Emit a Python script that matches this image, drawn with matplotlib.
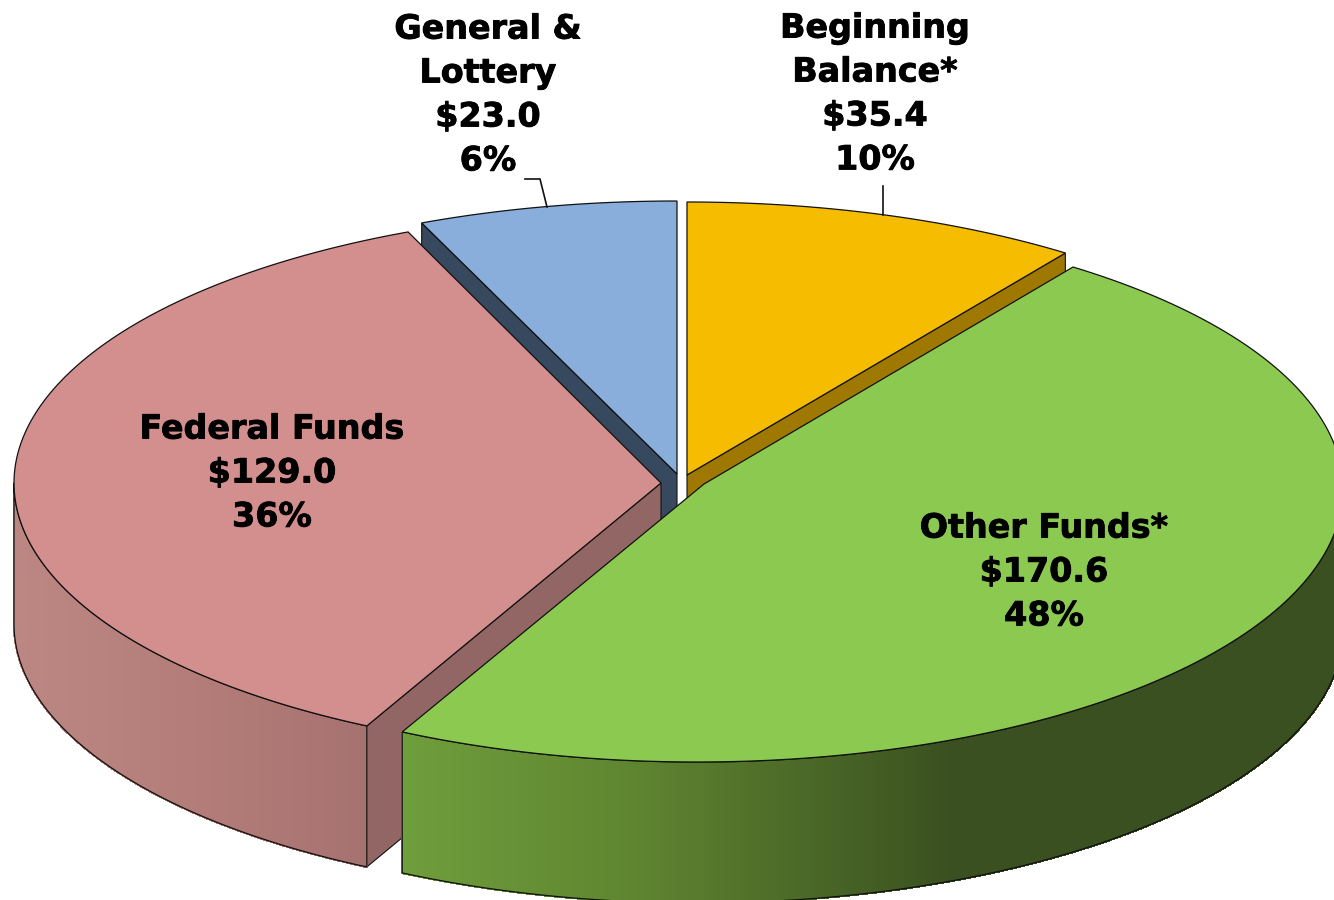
#!/usr/bin/env python3
"""Exploded 3D style pie of funding sources, drawn from squashed ellipses."""

import numpy as np
import matplotlib
matplotlib.use("Agg")
import matplotlib.pyplot as plt
import matplotlib.patheffects as pe
from matplotlib.collections import PolyCollection
from matplotlib.patches import Polygon

# Data, clockwise from 12 o'clock
names = ["Beginning\nBalance*", "Other Funds*", "Federal Funds", "General &\nLottery"]
values = [35.4, 170.6, 129.0, 23.0]
percents = ["10%", "48%", "36%", "6%"]

# Look of each slice
top_colors = ["#F6BC00", "#8CC950", "#D38F8D", "#8AAEDB"]
side_colors = ["#9E7800", "#3A5020", "#936666", "#36495E"]
centers = [(687, 475), (697, 489), (663, 483), (677, 474)]
apexes = [(687, 475), (704, 484), (661, 483), (677, 474)]
radii_x = [650, 646, 649, 650]

RY = 273
DEPTH = 141
EDGE = "#111111"

# which cut face can be seen: 0 start of the slice, -1 end of it
cut_faces = {0: [-1], 1: [], 2: [0], 3: [0]}

# outer wall shading, (x pixel, colour) stops
wall_stops = {
    1: ([400, 640, 950, 1340], ["#6F9E3C", "#5E8430", "#3A5020", "#3A5020"]),
    2: ([14, 200, 366], ["#BC8783", "#B37C78", "#A67270"]),
}

label_pos = [(875, 94), (1044, 572), (272, 473), (488, 95)]
leaders = [([883, 883], [215, 186]), ([547, 540, 525], [207, 179, 179])]

fig = plt.figure(figsize=(13.34, 9), dpi=100)
ax = fig.add_axes([0, 0, 1, 1])
ax.set_xlim(0, 1334)
ax.set_ylim(900, 0)
ax.axis("off")


def rim(center, rx, a0, a1, n=160):
    t = np.radians(np.linspace(a0, a1, n))
    return np.column_stack([center[0] + rx * np.sin(t), center[1] - RY * np.cos(t)])


def to_rgb_array(cols):
    return np.array([matplotlib.colors.to_rgb(c) for c in cols])


angles = np.cumsum([0] + values) / sum(values) * 360
down = np.array([0, DEPTH])

# back slices first, the green one sits in front of everything
for i in [0, 3, 2, 1]:
    a0, a1 = angles[i], angles[i + 1]
    c = centers[i]
    apex = np.array(apexes[i], dtype=float)
    edge = rim(c, radii_x[i], a0, a1)

    # flat cut faces going down from the centre
    for k in cut_faces[i]:
        p = edge[k]
        face = np.array([apex, p, p + down, apex + down])
        ax.add_patch(Polygon(face, closed=True, fc=side_colors[i], ec=EDGE, lw=0.8))

    # outer wall, only the part facing the viewer
    lo, hi = max(a0, 90), min(a1, 270)
    if hi > lo:
        wall = rim(c, radii_x[i], lo, hi, 300)
        xs, cols = wall_stops[i]
        rgb = to_rgb_array(cols)
        strips, fills = [], []
        for p, q in zip(wall[:-1], wall[1:]):
            strips.append([p, q, q + down, p + down])
            xm = (p[0] + q[0]) / 2
            fills.append([np.interp(xm, xs, rgb[:, k]) for k in range(3)])
        ax.add_collection(PolyCollection(strips, facecolors=fills, edgecolors=fills,
                                         linewidths=1.0, antialiaseds=False))
        outline = np.vstack([wall, (wall + down)[::-1]])
        ax.add_patch(Polygon(outline, closed=True, fc="none", ec=EDGE, lw=0.9))

    top = np.vstack([apex, edge])
    ax.add_patch(Polygon(top, closed=True, fc=top_colors[i], ec=EDGE, lw=0.9))

for lx, ly in leaders:
    ax.plot(lx, ly, color="#111111", lw=1.2)

for name, val, pct, (x, y) in zip(names, values, percents, label_pos):
    txt = f"{name}\n${val:.1f}\n{pct}"
    t = ax.text(x, y, txt, ha="center", va="center", fontsize=24, fontweight="bold",
                family="DejaVu Sans", color="black", linespacing=1.42)
    t.set_path_effects([pe.withStroke(linewidth=0.6, foreground="black")])

plt.savefig("out.png", dpi=100)
plt.close()
